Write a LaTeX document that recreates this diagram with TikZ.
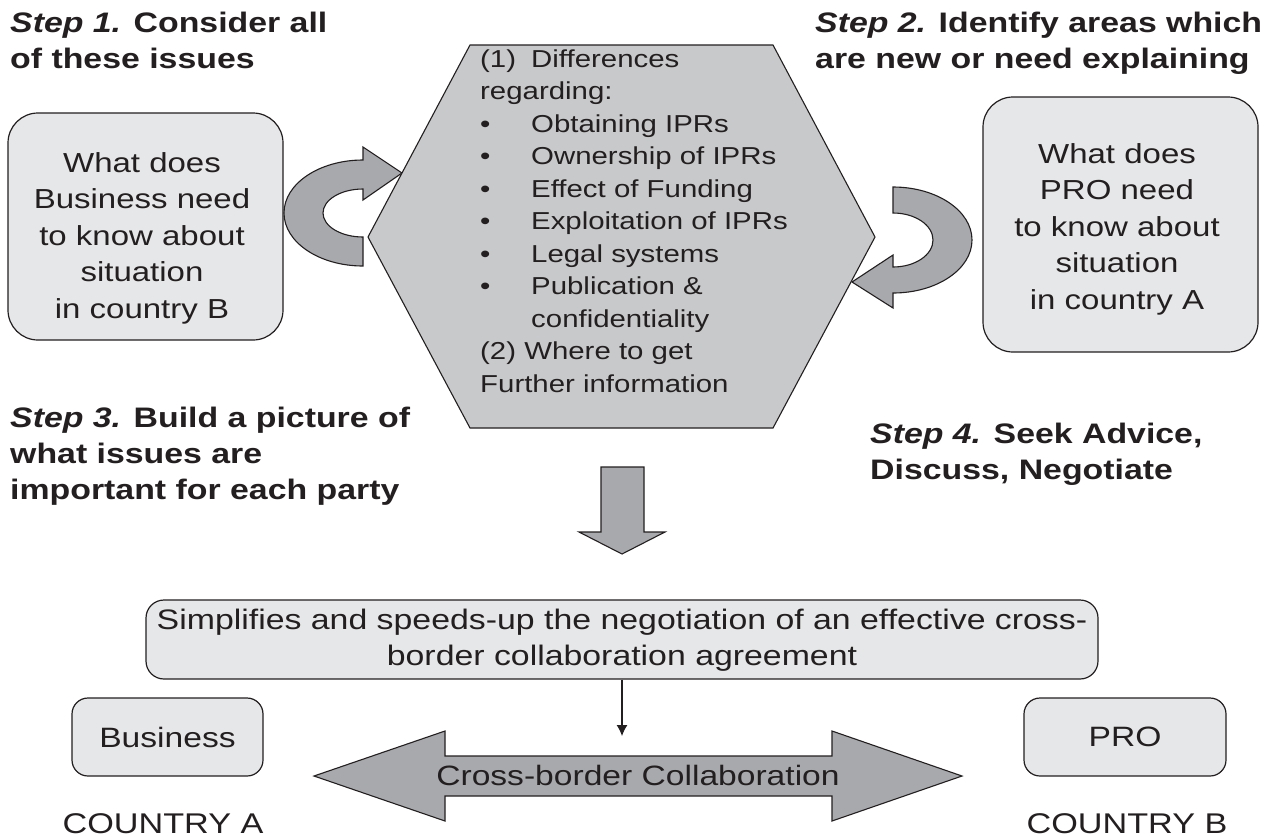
\documentclass[tikz,border=0pt]{standalone}
\usepackage{fontspec}
\setmainfont{Liberation Sans}[FakeStretch=1.2]
\usetikzlibrary{arrows.meta}
\definecolor{ink}{HTML}{231F20}
\definecolor{arrowgray}{HTML}{A7A9AC}
\definecolor{hexgray}{HTML}{C8C9CB}
\definecolor{boxgray}{HTML}{E6E7E8}
\tikzset{
  bigbox/.style={draw=ink, fill=boxgray, line width=1.2pt, rounded corners=30pt, inner sep=0pt},
  smallbox/.style={draw=ink, fill=boxgray, line width=1.2pt, rounded corners=16pt, inner sep=0pt},
  fatarrow/.style={draw=ink, fill=arrowgray, line width=1.1pt, line join=miter},
  hexshape/.style={draw=ink, fill=hexgray, line width=1.1pt},
  steptext/.style={anchor=base west, inner sep=0pt, text=ink, font=\fontsize{28.2}{36}\selectfont\bfseries},
  boxtext/.style={anchor=base, inner sep=0pt, text=ink, font=\fontsize{27.5}{36.5}\selectfont},
  plain/.style={anchor=base, inner sep=0pt, text=ink},
}
\begin{document}
\begin{tikzpicture}[x=1pt,y=-1pt]
\useasboundingbox (0,0) rectangle (1265,839);

% step labels
\node[steptext] (s1) at (10,32) {\parbox[t]{450pt}{\textit{Step 1.} Consider all\\of these issues}};
\node[steptext] (s2) at (815,32) {\parbox[t]{450pt}{\textit{Step 2.} Identify areas which\\are new or need explaining}};
\node[steptext] (s3) at (10,427) {\parbox[t]{450pt}{\textit{Step 3.} Build a picture of\\what issues are\\important for each party}};
\node[steptext] (s4) at (870,443) {\parbox[t]{450pt}{\textit{Step 4.} Seek Advice,\\Discuss, Negotiate}};

% side boxes
\node[bigbox, minimum width=275pt, minimum height=227pt] (lbox) at (145.5,226.5) {};
\node[boxtext] (ltext) at (142,172) {\parbox[t]{270pt}{\centering What does\\Business need\\to know about\\situation\\in country B}};
\node[bigbox, minimum width=275pt, minimum height=255pt] (rbox) at (1120.5,224.5) {};
\node[boxtext] (rtext) at (1117,163) {\parbox[t]{270pt}{\centering What does\\PRO need\\to know about\\situation\\in country A}};

% curved arrows
\draw[fatarrow] (363,147) -- (402,173) -- (363,200) -- (363,189)
  arc[start angle=270, end angle=90, x radius=40, y radius=24] -- (363,266)
  arc[start angle=90, end angle=270, x radius=79, y radius=53] -- cycle;
\draw[fatarrow] (893,308) -- (852,282) -- (893,255) -- (893,267)
  arc[start angle=90, end angle=-90, x radius=40, y radius=27] -- (893,187)
  arc[start angle=-90, end angle=90, x radius=79, y radius=53] -- cycle;

% hexagon
\draw[hexshape] (470,45) -- (773,45) -- (875,237) -- (773,428) -- (470,428) -- (368,237) -- cycle;
\node[anchor=base west, inner sep=0pt, text=ink, font=\fontsize{24.5}{32.5}\selectfont] (hextext) at (480,67) {\parbox[t]{380pt}{%
\makebox[51pt][l]{(1)}Differences\\
regarding:\\
\makebox[51pt][l]{\textbullet}Obtaining IPRs\\
\makebox[51pt][l]{\textbullet}Ownership of IPRs\\
\makebox[51pt][l]{\textbullet}Effect of Funding\\
\makebox[51pt][l]{\textbullet}Exploitation of IPRs\\
\makebox[51pt][l]{\textbullet}Legal systems\\
\makebox[51pt][l]{\textbullet}Publication \&\\
\hspace*{51pt}confidentiality\\
(2) Where to get\\
Further information}};

% down arrow
\draw[fatarrow] (601,467) -- (644,467) -- (644,532) -- (665,532) -- (622,554) -- (579,532) -- (601,532) -- cycle;

% result box
\node[smallbox, rounded corners=18pt, minimum width=952pt, minimum height=79pt] (simp) at (622,639.5) {};
\node[boxtext, font=\fontsize{28.2}{36}\selectfont] (simptext) at (622,629) {\parbox[t]{945pt}{\centering Simplifies and speeds-up the negotiation of an effective cross-\\border collaboration agreement}};
\coordinate (collabtop) at (622,736);
\draw[ink, line width=1.1pt, -{Latex[length=11pt,width=11pt]}] (simp.south) -- (collabtop);

% business / PRO
\node[smallbox, minimum width=191pt, minimum height=78pt, font=\fontsize{28}{34}\selectfont, text=ink] (bus) at (167.5,737) {Business};
\node[smallbox, minimum width=202pt, minimum height=78pt, font=\fontsize{28}{34}\selectfont, text=ink] (pro) at (1125,737) {PRO};

% double arrow
\draw[fatarrow] (314,776) -- (445,731) -- (445,756) -- (832,756) -- (832,731) -- (962,776)
  -- (832,821) -- (832,796) -- (445,796) -- (445,821) -- cycle;
\node[plain, font=\fontsize{28}{34}\selectfont] (collab) at (638,785) {Cross-border Collaboration};

% countries
\node[plain, font=\fontsize{28.5}{34}\selectfont] (ca) at (163,833) {COUNTRY A};
\node[plain, font=\fontsize{28.5}{34}\selectfont] (cb) at (1127,833) {COUNTRY B};
\end{tikzpicture}
\end{document}
